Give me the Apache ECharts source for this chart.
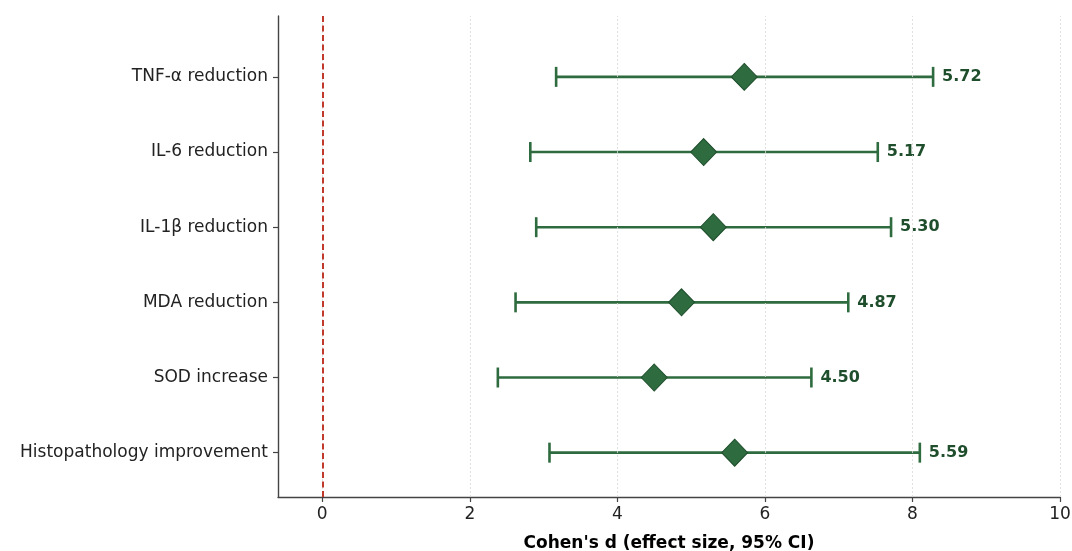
<!DOCTYPE html>
<html>
<head>
<meta charset="utf-8">
<script src="https://cdn.jsdelivr.net/npm/echarts@6/dist/echarts.min.js"></script>
<style>
  html, body { margin: 0; padding: 0; background: #fff; }
  #main { width: 1072px; height: 551px; }
</style>
</head>
<body>
<div id="main"></div>
<script>
// 类别（从上到下）
var categories = ["TNF-α reduction", "IL-6 reduction", "IL-1β reduction", "MDA reduction", "SOD increase", "Histopathology improvement"];
var effect = [5.72, 5.17, 5.30, 4.87, 4.50, 5.59];
var ciLow = [3.17, 2.82, 2.90, 2.62, 2.38, 3.08];
var ciHigh = [8.28, 7.53, 7.71, 7.13, 6.63, 8.10];
var xTicks = [0, 2, 4, 6, 8, 10];

var green = "#2e6b3f";
var n = categories.length;
// 最上面一行在 y = n-1
function rowY(i) { return n - 1 - i; }

var ciData = categories.map(function (c, i) { return [ciLow[i], ciHigh[i], rowY(i), effect[i]]; });
var pointData = categories.map(function (c, i) { return [effect[i], rowY(i)]; });

var myChart = echarts.init(document.getElementById("main"));
var font = "DejaVu Sans";

var options = {
  animation: false,
  grid: { left: 278, right: 12, top: 16, bottom: 54, outerBoundsMode: "none", containLabel: false },
  xAxis: {
    type: "value",
    min: -0.6,
    max: 10,
    name: "Cohen's d (effect size, 95% CI)",
    nameLocation: "middle",
    nameGap: 38,
    nameTextStyle: { fontFamily: font, fontSize: 17, fontWeight: "bold", color: "#000" },
    axisLine: { show: true, onZero: false, lineStyle: { color: "#444", width: 1.4 } },
    axisTick: { show: true, customValues: xTicks, length: 5, lineStyle: { color: "#444", width: 1.2 } },
    axisLabel: { customValues: xTicks, fontFamily: font, fontSize: 17, color: "#222", margin: 9 },
    splitLine: { show: false }
  },
  yAxis: {
    type: "value",
    min: -0.59,
    max: 5.81,
    axisLine: { show: true, onZero: false, lineStyle: { color: "#444", width: 1.4 } },
    axisTick: { show: true, customValues: [0, 1, 2, 3, 4, 5], length: 5, lineStyle: { color: "#444", width: 1.2 } },
    axisLabel: {
      customValues: [0, 1, 2, 3, 4, 5],
      fontFamily: font, fontSize: 17, color: "#222", margin: 10,
      formatter: function (v) { return categories[n - 1 - Math.round(v)]; }
    },
    splitLine: { show: false }
  },
  series: [
    {
      // 网格线 + 零线
      type: "line",
      data: [],
      silent: true,
      markLine: {
        symbol: "none",
        label: { show: false },
        data: xTicks.map(function (t) {
          return { xAxis: t, lineStyle: { color: "#d8d8d8", type: [2, 2], width: 0.8 } };
        }).concat([{ xAxis: 0, lineStyle: { color: "#c0392b", type: [6, 3.5], width: 2 } }])
      }
    },
    {
      type: "custom",
      renderItem: function (params, api) {
        var lo = api.coord([api.value(0), api.value(2)]);
        var hi = api.coord([api.value(1), api.value(2)]);
        var cap = 10;
        var style = { stroke: green, lineWidth: 2.6 };
        return {
          type: "group",
          children: [
            { type: "line", shape: { x1: lo[0], y1: lo[1], x2: hi[0], y2: hi[1] }, style: style },
            { type: "line", shape: { x1: lo[0], y1: lo[1] - cap, x2: lo[0], y2: lo[1] + cap }, style: style },
            { type: "line", shape: { x1: hi[0], y1: hi[1] - cap, x2: hi[0], y2: hi[1] + cap }, style: style },
            {
              type: "text",
              x: hi[0] + 9, y: hi[1],
              style: {
                text: api.value(3).toFixed(2),
                fill: "#1f4e2c",
                font: "bold 16px " + font,
                verticalAlign: "middle",
                align: "left"
              }
            }
          ]
        };
      },
      encode: { x: [0, 1], y: 2 },
      data: ciData,
      z: 3
    },
    {
      type: "scatter",
      symbol: "diamond",
      symbolSize: [26, 27],
      itemStyle: { color: green, borderColor: "#1f4e2c", borderWidth: 1, opacity: 1 },
      data: pointData,
      z: 4
    }
  ]
};

myChart.setOption(options);
</script>
</body>
</html>
